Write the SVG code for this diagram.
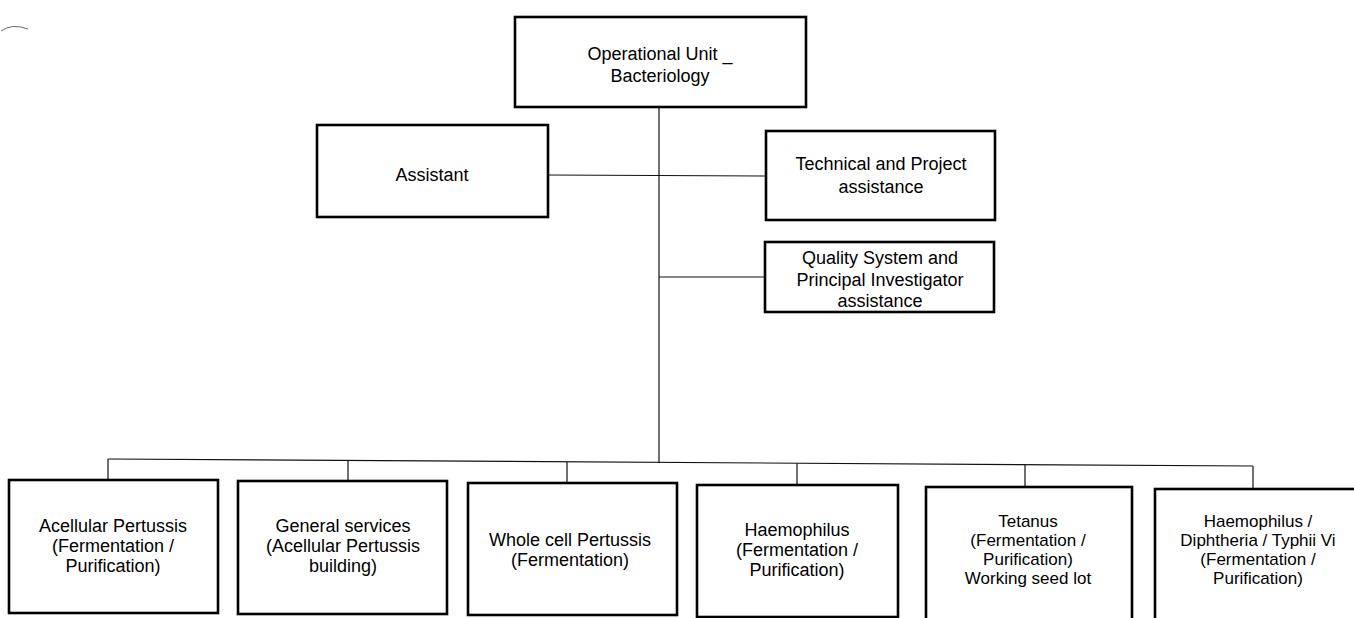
<svg xmlns="http://www.w3.org/2000/svg" width="1354" height="618" viewBox="0 0 1354 618">
<style>
.box{fill:#fff;stroke:#000;stroke-width:2.6}
.ln{fill:none;stroke:#111;stroke-width:1.2}
text{font-family:"Liberation Sans",Arial,sans-serif;font-size:18px;fill:#000;text-anchor:middle}
.t4{font-size:17px}
</style>
<rect width="1354" height="618" fill="#fff"/>
<path d="M1 31 Q 12 23 28 29" fill="none" stroke="#666" stroke-width="1"/>
<g id="connectors">
<line class="ln" x1="659" y1="107" x2="659" y2="463"/>
<line class="ln" x1="548" y1="175" x2="766" y2="176"/>
<line class="ln" x1="659" y1="277" x2="765" y2="277"/>
<line class="ln" x1="108" y1="459" x2="1253" y2="466"/>
<line class="ln" x1="108" y1="459" x2="108" y2="480"/>
<line class="ln" x1="348" y1="460.5" x2="348" y2="481"/>
<line class="ln" x1="567" y1="462" x2="567" y2="483"/>
<line class="ln" x1="797" y1="463.5" x2="797" y2="485"/>
<line class="ln" x1="1025" y1="465" x2="1025" y2="487"/>
<line class="ln" x1="1253" y1="466" x2="1253" y2="489"/>
</g>
<g id="n-top">
<rect class="box" x="515" y="17" width="291" height="90"/>
<text x="660" y="60">Operational Unit _</text>
<text x="660" y="82">Bacteriology</text>
</g>
<g id="n-assistant">
<rect class="box" x="317" y="125" width="231" height="92"/>
<text x="432" y="181">Assistant</text>
</g>
<g id="n-tech">
<rect class="box" x="766" y="131" width="229" height="89"/>
<text x="881" y="170">Technical and Project</text>
<text x="881" y="193">assistance</text>
</g>
<g id="n-quality">
<rect class="box" x="765" y="242" width="229" height="70"/>
<text x="880" y="264">Quality System and</text>
<text x="880" y="286">Principal Investigator</text>
<text x="880" y="307">assistance</text>
</g>
<g id="n-acellular">
<rect class="box" x="9" y="480" width="209" height="133"/>
<text x="113" y="532">Acellular Pertussis</text>
<text x="113" y="552">(Fermentation /</text>
<text x="113" y="572">Purification)</text>
</g>
<g id="n-general">
<rect class="box" x="238" y="481" width="209" height="133"/>
<text x="343" y="532">General services</text>
<text x="343" y="552">(Acellular Pertussis</text>
<text x="343" y="572">building)</text>
</g>
<g id="n-whole">
<rect class="box" x="468" y="483" width="209" height="132"/>
<text x="570" y="546">Whole cell Pertussis</text>
<text x="570" y="566">(Fermentation)</text>
</g>
<g id="n-haemo">
<rect class="box" x="697" y="485" width="201" height="132"/>
<text x="797" y="536">Haemophilus</text>
<text x="797" y="556">(Fermentation /</text>
<text x="797" y="576">Purification)</text>
</g>
<g id="n-tetanus">
<rect class="box" x="926" y="487" width="206" height="134"/>
<text class="t4" x="1028" y="527">Tetanus</text>
<text class="t4" x="1028" y="546">(Fermentation /</text>
<text class="t4" x="1028" y="565">Purification)</text>
<text class="t4" x="1028" y="584">Working seed lot</text>
</g>
<g id="n-hdt">
<rect class="box" x="1155" y="489" width="207" height="134"/>
<text class="t4" x="1258" y="527">Haemophilus  /</text>
<text class="t4" x="1258" y="546">Diphtheria / Typhii Vi</text>
<text class="t4" x="1258" y="565">(Fermentation /</text>
<text class="t4" x="1258" y="584">Purification)</text>
</g>
</svg>
